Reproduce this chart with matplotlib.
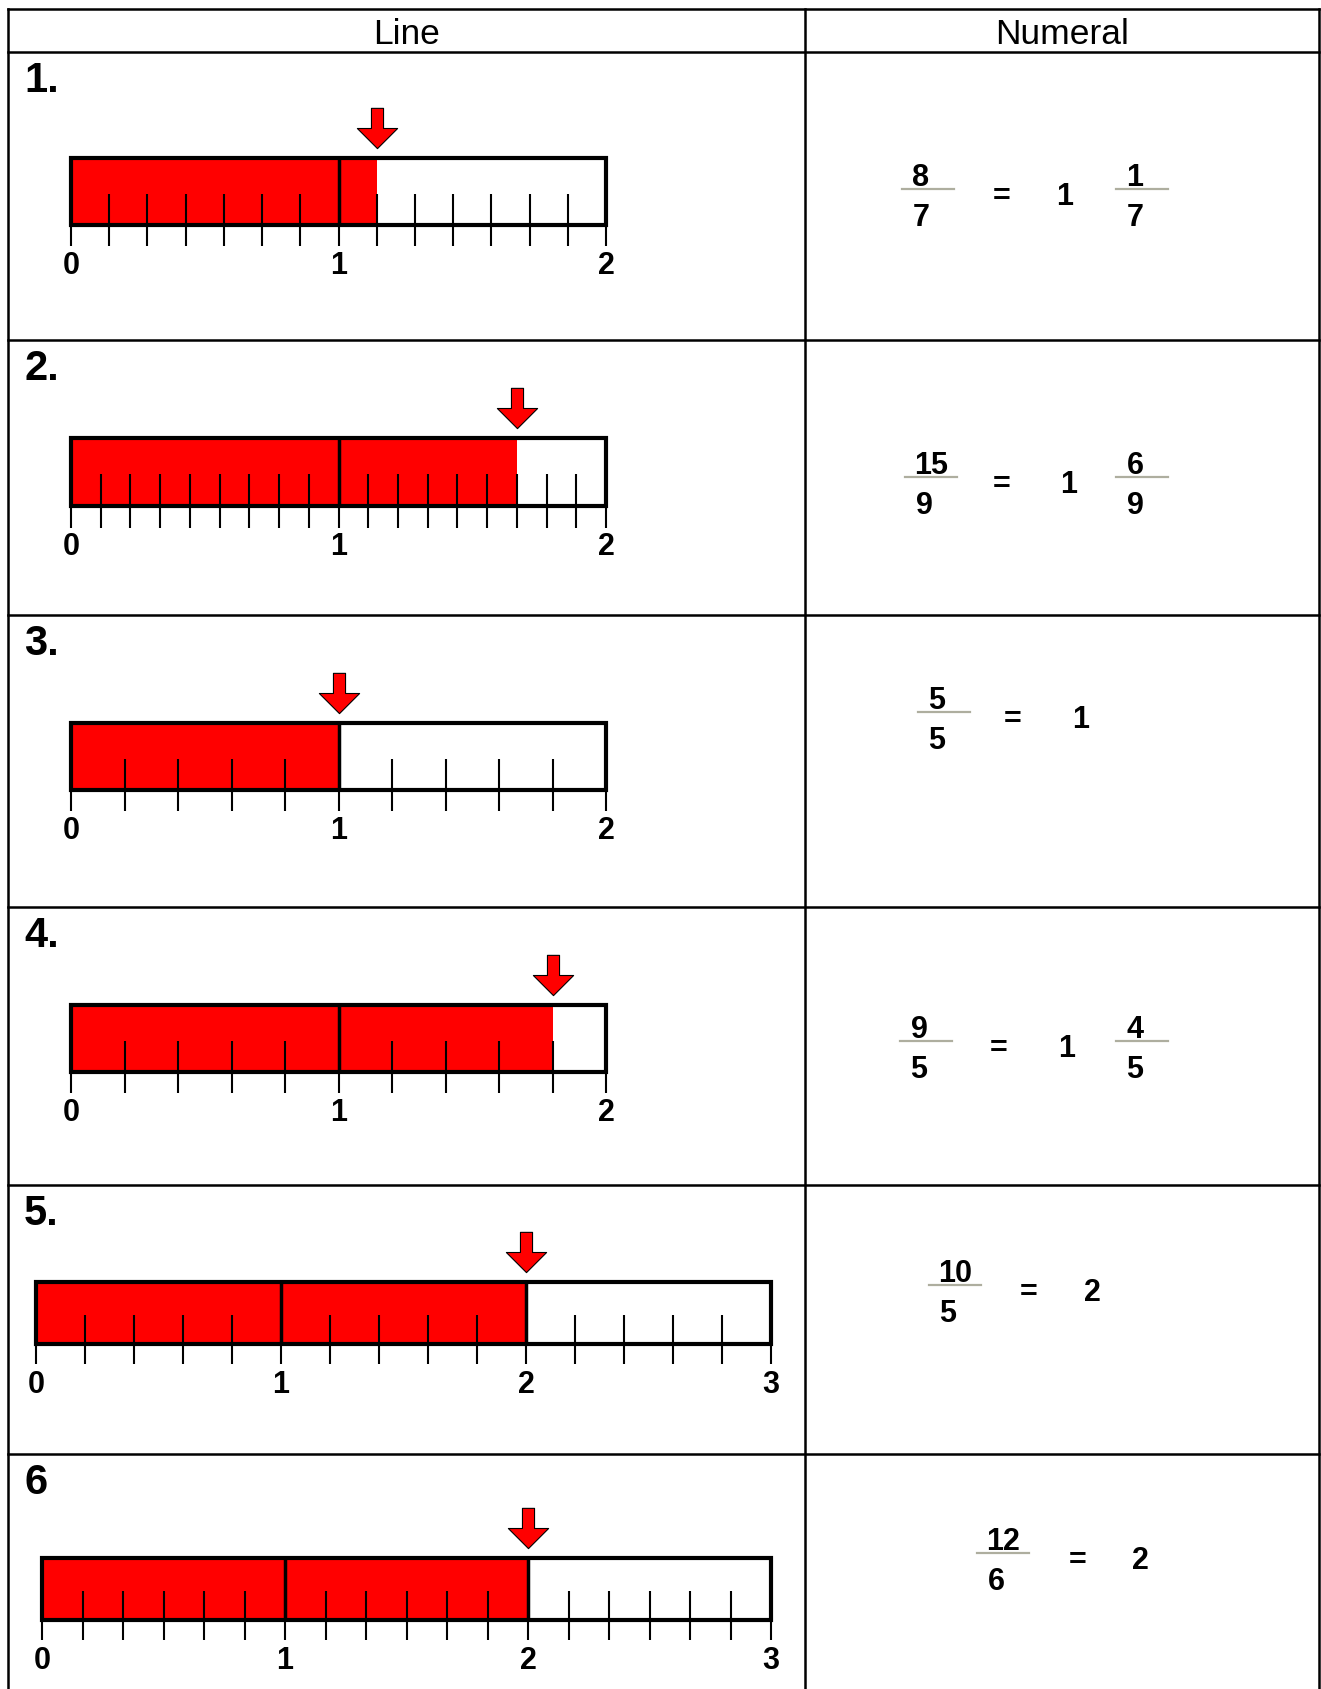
import numpy as np
import matplotlib
matplotlib.use('Agg')
import matplotlib.pyplot as plt
from matplotlib.path import Path
from matplotlib.patches import Rectangle

plt.rcParams['font.family'] = ['Liberation Sans', 'DejaVu Sans']

# chart data
headers = ['Line', 'Numeral']
row_labels = ['1.', '2.', '3.', '4.', '5.', '6']
numerators = [8, 15, 5, 9, 10, 12]
denominators = [7, 9, 5, 5, 5, 6]
line_max = [2, 2, 2, 2, 3, 3]
whole_parts = [1, 1, 1, 1, 2, 2]
remainders = [1, 6, 0, 4, 0, 0]

# layout in pixels of the 1321x1689 picture
W, H = 1321, 1689
col_x = [8, 805, 1319]
row_y = [9, 52, 340, 615, 907, 1185, 1454]
bar_left = [71, 71, 71, 71, 36, 42]
bar_right = [606, 606, 606, 606, 771, 771]
bar_top = [158, 438, 723, 1005, 1282, 1558]
bar_bottom = [225, 506, 790, 1072, 1344, 1620]
frac_x = [928, 931, 944, 926, 955, 1003]
frac_y = [189, 477, 712, 1041, 1285, 1553]
eq_x = [1002, 1002, 1013, 999, 1029, 1078]
whole_x = [1065, 1069, 1081, 1067, 1092, 1140]
rem_x = 1142

RED = '#ff0000'
FRAC_LINE = '#aeae9f'

# down arrow marker (shaft + head)
arrow = Path([(-6, 20), (6, 20), (6, 0), (20, 0), (0, -20), (-20, 0), (-6, 0), (-6, 20)],
             [Path.MOVETO] + [Path.LINETO] * 6 + [Path.CLOSEPOLY])

fig = plt.figure(figsize=(W / 100, H / 100), dpi=100)
base = fig.add_axes([0, 0, 1, 1])
base.set_xlim(0, W)
base.set_ylim(H, 0)
base.axis('off')

# table grid
for y in row_y:
    base.plot([col_x[0], col_x[-1]], [y, y], color='black', lw=1.8, solid_capstyle='projecting')
for x in col_x:
    base.plot([x, x], [row_y[0], H], color='black', lw=1.8, solid_capstyle='projecting')

base.text((col_x[0] + col_x[1]) / 2, 44, headers[0], ha='center', va='baseline', fontsize=25.5)
base.text((col_x[1] + col_x[2]) / 2, 44, headers[1], ha='center', va='baseline', fontsize=25.5)


def fraction(cx, fy, num, den):
    off_n = -7 if num < 10 else 0
    off_d = -7 if den < 10 else 0
    base.text(cx + off_n, fy - 3, str(num), ha='center', va='baseline',
              fontsize=22, fontweight='bold')
    base.plot([cx - 26, cx + 26], [fy, fy], color=FRAC_LINE, lw=1.6)
    base.text(cx + off_d, fy + 37, str(den), ha='center', va='baseline',
              fontsize=22, fontweight='bold')


def number_line(i):
    L, R, T, B = bar_left[i], bar_right[i], bar_top[i], bar_bottom[i]
    h = B - T
    m = line_max[i]
    num, den = numerators[i], denominators[i]
    ax = fig.add_axes([L / W, 1 - (B + 30) / H, (R - L) / W, (h + 90) / H])
    ax.set_xlim(0, m)
    ax.set_ylim(-30 / h, 1 + 60 / h)
    ax.axis('off')

    val = num / den
    ax.barh(0.5, val, height=1, left=0, color=RED, lw=0)

    ticks = np.arange(0, m * den + 1) / den
    minor = [t for t in ticks if not float(t).is_integer()]
    ax.vlines(minor, 0, 0.47, color='black', lw=1.5)
    ax.vlines(ticks, -0.32, 0, color='black', lw=1.5, clip_on=False)
    ax.vlines(range(1, m), 0, 1, color='black', lw=2.5)
    ax.add_patch(Rectangle((0, 0), m, 1, fill=False, ec='black', lw=3, clip_on=False))

    ax.plot(val, 1 + 30 / h, marker=arrow, ms=29, mfc=RED, mec='black', mew=0.8,
            clip_on=False)
    for k in range(m + 1):
        ax.text(k, -49 / h, str(k), ha='center', va='baseline', fontsize=22,
                fontweight='bold')


for i in range(len(row_labels)):
    base.text(24, row_y[i + 1] + 40, row_labels[i], ha='left', va='baseline',
              fontsize=30, fontweight='bold')
    number_line(i)

    fy = frac_y[i]
    fraction(frac_x[i], fy, numerators[i], denominators[i])
    base.text(eq_x[i], fy + 16, '=', ha='center', va='baseline', fontsize=22, fontweight='bold')
    base.text(whole_x[i], fy + 16, str(whole_parts[i]), ha='center', va='baseline',
              fontsize=22, fontweight='bold')
    if remainders[i]:
        fraction(rem_x, fy, remainders[i], denominators[i])

fig.savefig('out.png', dpi=100)
